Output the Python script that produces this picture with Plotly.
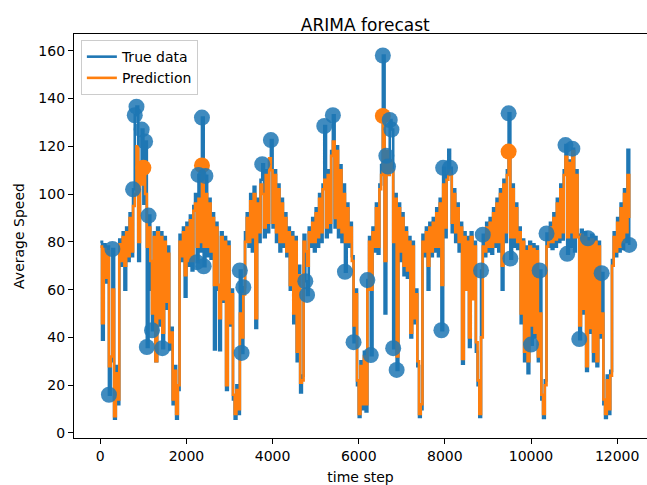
import plotly.graph_objects as go

# Average speed, one reading every SAMPLE_EVERY time steps
SAMPLE_EVERY = 40

true_speed = [
    80, 39, 79, 63, 78, 16, 30, 77, 6, 28,
    12, 81, 70, 84, 60, 86, 72, 92, 74, 102,
    133, 136.6, 72, 110, 127, 96, 122, 36, 91, 60,
    43, 84, 30, 86, 45, 84, 35.5, 82, 52, 78,
    35, 44, 12, 28, 6, 18, 83, 72, 86, 57,
    88, 70, 91, 68, 95, 100, 71.5, 108, 76, 132,
    69.8, 107.6, 74, 98, 73, 92, 35, 88, 60, 34.7,
    84, 55, 82, 18, 80, 45, 60, 14, 6, 20,
    8, 68, 33.5, 61, 84, 92, 78, 100, 76, 103,
    44, 98, 80, 106, 112.5, 82, 110, 84, 114, 122.6,
    86, 110, 80, 104, 76, 98, 78, 92, 74, 86,
    60, 84, 46, 82, 30, 70, 17, 24, 83, 63.5,
    57.8, 86, 78, 90, 76, 94, 78, 100, 80, 104,
    128.5, 82, 110, 84, 118, 133, 86, 120, 82, 112,
    80, 104, 67.5, 96, 78, 88, 74, 38, 60, 20,
    6.7, 30, 10, 34, 9, 64, 82, 32.6, 86, 76,
    96, 75, 104, 112, 158, 50, 116, 111.5, 131, 127,
    35.5, 100, 26.4, 96, 72, 92, 66, 86, 65, 82,
    40, 80, 46, 60, 28, 6.7, 10, 83, 74, 86,
    60, 88, 74, 90, 76, 94, 74, 98, 43, 111,
    82, 108, 118.5, 111, 84, 102, 80, 96, 76, 88,
    29, 84, 62, 82, 36, 84, 58, 80, 34, 20,
    6.7, 68, 83, 74, 88, 76, 90, 75, 94, 78,
    98, 76, 102, 60, 106, 80, 110, 133.8, 73, 104,
    78, 96, 77, 86, 46, 81, 30, 78, 25, 80,
    37, 79, 40, 78, 30, 68, 14, 6.3, 22, 83.5,
    78, 88, 77, 92, 78, 98, 80, 104, 81, 110,
    120.5, 75, 114, 78, 119, 76, 110, 83, 39.3, 85,
    50, 84, 26, 81.5, 42, 83, 30, 82, 28, 80,
    40, 66.9, 12, 6.3, 24, 8, 26, 72.4, 84, 74,
    90, 76, 96, 77, 102, 80, 118.5, 78.7,
]

pred_speed = [
    78, 46, 77, 65, 76, 28, 32, 60, 7, 25,
    14, 79, 72, 82, 70, 84, 74, 90, 76, 95,
    100, 120, 80, 108, 104, 111, 100, 78, 86, 72,
    50, 82, 30, 84, 48, 82, 42, 80, 55, 75,
    38, 42, 14, 26, 8, 20, 80, 74, 84, 66,
    86, 72, 89, 72, 93, 96, 78, 98, 80, 112,
    78, 100, 78, 96, 76, 90, 62, 86, 62, 48,
    82, 56, 80, 20, 78, 46, 58, 16, 8, 18,
    10, 50, 40, 58, 80, 90, 80, 97, 82, 100,
    48, 96, 84, 104, 100, 86, 108, 88, 115, 110,
    88, 108, 84, 102, 80, 96, 80, 90, 76, 84,
    62, 82, 50, 80, 34, 66, 21, 22, 80, 76,
    70, 84, 80, 88, 80, 92, 82, 98, 84, 102,
    106, 86, 108, 88, 116, 122, 90, 118, 86, 110,
    84, 100, 80, 94, 80, 86, 72, 45, 58, 22,
    8, 28, 12, 32, 12, 60, 80, 60, 84, 78,
    94, 78, 102, 108, 132.7, 72, 118, 108, 114, 110,
    80, 98, 32, 94, 76, 90, 70, 84, 68, 80,
    42, 78, 48, 58, 30, 8, 12, 80, 76, 84,
    70, 86, 76, 88, 78, 92, 78, 96, 62, 104,
    86, 106, 110, 108, 88, 100, 84, 94, 80, 86,
    31, 82, 60, 80, 40, 82, 56, 78, 38, 22,
    8, 40, 78, 76, 86, 78, 88, 78, 92, 80,
    96, 80, 100, 70, 104, 84, 108, 117.8, 82, 102,
    82, 94, 80, 84, 50, 80, 34, 76, 30, 78,
    45, 77, 42, 76, 32, 50, 16, 8, 20, 78,
    80, 86, 80, 90, 81, 96, 82, 102, 84, 108,
    115.6, 82, 113, 84, 118, 82, 108, 82, 45, 83,
    52, 82, 28, 80, 44, 81, 34, 80, 30, 78,
    42, 50, 14, 8, 22, 10, 24, 70, 82, 76,
    88, 78, 94, 80, 100, 84, 108, 90,
]

# Sample positions flagged as anomalies in each series
true_anomaly_idx = [
    5, 7, 19, 20, 21, 24, 26, 27, 28, 30, 36, 56, 57, 59, 60, 61, 81, 82, 83,
    94, 99, 119, 120, 130, 135, 142, 147, 155, 157, 164, 166, 167, 168, 169,
    170, 172, 198, 199, 203, 221, 222, 237, 238, 250, 255, 259, 270, 271, 274,
    278, 283, 291, 307,
]
pred_anomaly_idx = [25, 59, 164, 237]

x_ticks = [0, 2000, 4000, 6000, 8000, 10000, 12000]
y_ticks = [0, 20, 40, 60, 80, 100, 120, 140, 160]

steps = [i * SAMPLE_EVERY for i in range(len(true_speed))]

BLUE = "#1f77b4"
ORANGE = "#ff7f0e"
FONT = "DejaVu Sans"
LINE_W = 2.6

fig = go.Figure()
# Dense per-step readings: drawn as step segments so each sample becomes a
# vertical stroke and the rapid oscillation reads as a solid band.
fig.add_trace(go.Scatter(
    x=steps, y=true_speed, mode="lines", name="True data",
    line=dict(color=BLUE, width=LINE_W, shape="hv"),
))
fig.add_trace(go.Scatter(
    x=steps, y=pred_speed, mode="lines", name="Prediction",
    line=dict(color=ORANGE, width=LINE_W, shape="hv"),
))
fig.add_trace(go.Scatter(
    x=[steps[i] for i in pred_anomaly_idx],
    y=[pred_speed[i] for i in pred_anomaly_idx],
    mode="markers", showlegend=False, hoverinfo="skip",
    marker=dict(size=16, color=ORANGE, line=dict(width=0)),
))
fig.add_trace(go.Scatter(
    x=[steps[i] for i in true_anomaly_idx],
    y=[true_speed[i] for i in true_anomaly_idx],
    mode="markers", showlegend=False, hoverinfo="skip",
    marker=dict(size=16, color=BLUE, opacity=0.85, line=dict(width=0)),
))

W, H = 647, 485
L, R, T, B = 74, 0, 34, 47

fig.update_layout(
    width=W, height=H,
    margin=dict(l=L, r=R, t=T, b=B, pad=0),
    paper_bgcolor="white", plot_bgcolor="white",
    font=dict(family=FONT, size=14, color="black"),
    title=dict(
        text="ARIMA forecast", font=dict(size=17, family=FONT, color="black"),
        x=(365.3 - L) / (W - L - R), xref="paper", xanchor="center",
        y=1 - 25.5 / H, yref="container", yanchor="middle",
    ),
    legend=dict(
        x=0.012, y=0.985, xanchor="left", yanchor="top",
        bgcolor="rgba(255,255,255,0.8)", bordercolor="#cccccc", borderwidth=1,
        font=dict(size=14, family=FONT, color="black"),
        tracegroupgap=0, itemwidth=30,
    ),
    showlegend=True,
)

fig.update_xaxes(
    range=[-611, 12693], tickvals=x_ticks, ticktext=[str(v) for v in x_ticks],
    showgrid=False, zeroline=False,
    showline=True, linecolor="black", linewidth=1.2, mirror=True,
    ticks="outside", ticklen=5, tickwidth=1.2, tickcolor="black",
    tickfont=dict(size=14, family=FONT, color="black"),
    title=dict(text="time step", font=dict(size=14, family=FONT, color="black"), standoff=12),
)
fig.update_yaxes(
    range=[-2.1, 167.0], tickvals=y_ticks, ticktext=[str(v) for v in y_ticks],
    showgrid=False, zeroline=False,
    showline=True, linecolor="black", linewidth=1.2,
    ticks="outside", ticklen=5, tickwidth=1.2, tickcolor="black",
    tickfont=dict(size=14, family=FONT, color="black"),
    title=dict(text="Average Speed", font=dict(size=14, family=FONT, color="black"), standoff=10),
)

fig.write_html("out.html")
